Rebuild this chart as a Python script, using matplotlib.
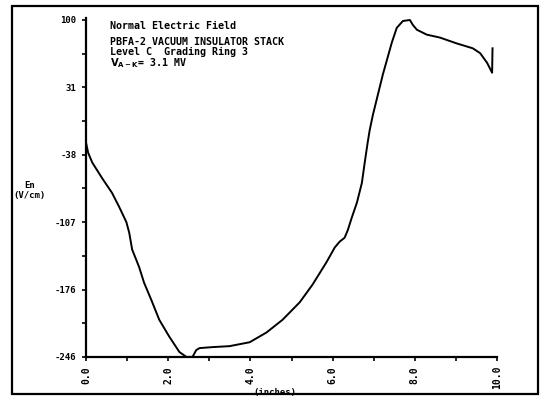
import matplotlib
matplotlib.use("Agg")
import matplotlib.pyplot as plt
from matplotlib.patches import Rectangle

# Distance along stack (axis units) and normal electric field
x_pos = [0.0, 0.05, 0.15, 0.39, 0.63, 0.80, 0.98, 1.05, 1.12, 1.29, 1.41, 1.59,
         1.78, 2.02, 2.27, 2.44, 2.59, 2.68, 2.76, 3.07, 3.49, 3.98, 4.39, 4.78,
         5.20, 5.51, 5.85, 6.05, 6.17, 6.29, 6.37, 6.46, 6.59, 6.71, 6.78, 6.85,
         6.90, 6.98, 7.22, 7.44, 7.56, 7.71, 7.88, 7.95, 8.05, 8.29, 8.61, 9.02,
         9.41, 9.59, 9.76, 9.88, 9.89]
en_vals = [-26, -36, -46, -62, -77, -91, -107, -118, -135, -153, -169, -187,
           -207, -224, -240, -245, -245, -238, -236, -235, -234, -230, -220, -207,
           -189, -171, -148, -133, -127, -123, -115, -103, -87, -67, -46, -26,
           -13, 3, 44, 77, 92, 99, 100, 95, 90, 85, 82, 76,
           71, 66, 56, 46, 71]

y_ticks_major = [100, 31, -38, -107, -176, -245]
y_tick_labels = ["100", "31", "-38", "-107", "-176", "-246"]
x_ticks_major = [0, 2, 4, 6, 8, 10]
x_tick_labels = ["0.0", "2.0", "4.0", "6.0", "8.0", "10.0"]

title_lines = ["Normal Electric Field",
               "PBFA-2 VACUUM INSULATOR STACK",
               "Level C  Grading Ring 3",
               "$\\mathbf{V_{A-K}}$= 3.1 MV"]
title_rows_px = [26, 42, 52, 63]

W, H = 545, 401
fig = plt.figure(figsize=(W / 100, H / 100), dpi=100)
ax = fig.add_axes([0.158, 0.110, 0.754, 0.845])

ax.plot(x_pos, en_vals, color="black", lw=1.4)
ax.set_xlim(0, 10)
ax.set_ylim(-245, 102)

for s in ["top", "right"]:
    ax.spines[s].set_visible(False)
for s in ["left", "bottom"]:
    ax.spines[s].set_linewidth(1.6)

ax.set_yticks(y_ticks_major)
ax.set_yticklabels(y_tick_labels, fontsize=6.5, fontweight="bold",
                   family="DejaVu Sans Mono")
ax.set_yticks([v - 34.5 for v in y_ticks_major[:-1]], minor=True)
ax.set_xticks(x_ticks_major)
ax.set_xticklabels(x_tick_labels, fontsize=7, fontweight="bold",
                   rotation=90, family="DejaVu Sans Mono")
ax.set_xticks([1, 3, 5, 7, 9], minor=True)
ax.tick_params(axis="both", which="both", direction="out", length=3, width=1.2)
ax.tick_params(axis="y", pad=4)

for line, ypx in zip(title_lines, title_rows_px):
    fig.text(110 / W, 1 - ypx / H, line, fontsize=7.2, fontweight="bold",
             family="DejaVu Sans Mono", va="center", ha="left")

fig.text(0.055, 0.525, "En\n(V/cm)", fontsize=6.5, fontweight="bold",
         family="DejaVu Sans Mono", ha="center", va="center", linespacing=1.1)
fig.text(0.505, 0.022, "(inches)", fontsize=6.5, fontweight="bold",
         family="DejaVu Sans Mono", ha="center", va="center")

fig.patches.append(Rectangle((0.022, 0.018), 0.965, 0.967, transform=fig.transFigure,
                             fill=False, lw=1.6, color="black"))

fig.savefig("out.png", dpi=100)
